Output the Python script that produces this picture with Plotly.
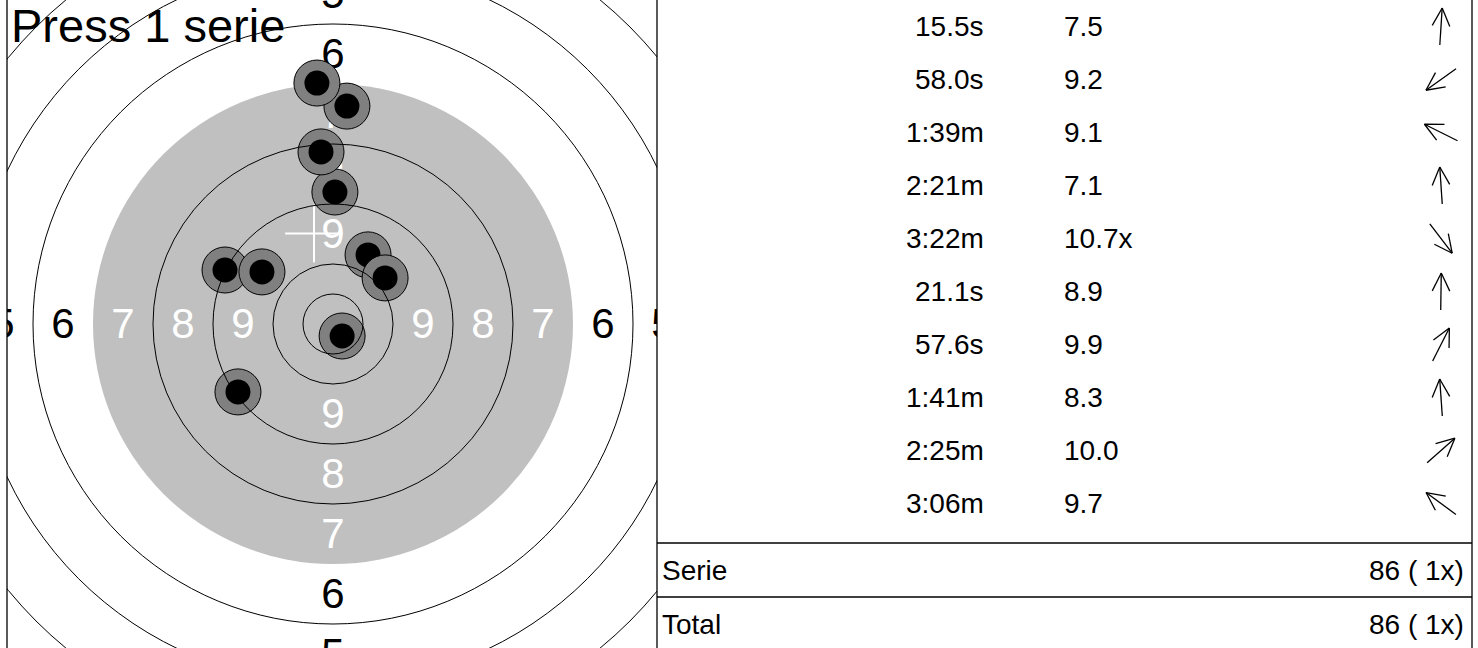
import numpy as np
import plotly.graph_objects as go

# ── Data ──────────────────────────────────────────────────────────────────────
TITLE = "Press 1 serie"

# shot centres in mm from target centre (x right, y up), in firing order
SHOT_X = [5.8, -39.6, -45.0, -6.7, 3.8, 0.8, 14.6, -5.0, 21.7, -29.6]
SHOT_Y = [90.8, -28.3, 22.5, 100.4, -5.0, 55.0, 28.8, 71.7, 19.2, 21.7]
SHOT_TIME = ["15.5s", "58.0s", "1:39m", "2:21m", "3:22m",
             "21.1s", "57.6s", "1:41m", "2:25m", "3:06m"]
SHOT_SCORE = [7.5, 9.2, 9.1, 7.1, 10.7, 8.9, 9.9, 8.3, 10.0, 9.7]
SHOT_INNER_TEN = [False, False, False, False, True, False, False, False, False, False]

RING_VALUES = [10, 9, 8, 7, 6, 5, 4, 3, 2, 1]
RING_LABELS = [9, 8, 7, 6, 5, 4, 3]
SUMMARY_ROWS = ["Serie", "Total"]

# ── Look ──────────────────────────────────────────────────────────────────────
W, H = 1478, 648
FONT = "Arial, Liberation Sans, sans-serif"
GREY = "#C0C0C0"
SHOT_GREY = "#808080"
RING_W = 25.0          # mm per ring
BLACK_RING = 7         # rings 7..10 are the shaded aiming disc
PX_MM = 2.4            # screen pixels per mm
CX, CY = 333, 324      # target centre on screen
LEFT, SPLIT, RIGHT = 7, 657, 1472
ROW_H = 53
LABEL_DY = -3 / PX_MM  # nudge ring numbers down a touch
ARROW_X, ARROW_L, HEAD_L, HEAD_A = 784, 37, 20, np.radians(26)


def ring_radius(v):
    return (11 - v) * RING_W


fig = go.Figure()

# ring numbers (under the shots)
lab_x, lab_y, lab_t, lab_c = [], [], [], []
for v in RING_LABELS:
    r = ring_radius(v) - RING_W / 2
    col = "white" if v >= BLACK_RING else "black"
    for dx, dy in [(-1, 0), (1, 0), (0, 1), (0, -1)]:
        lab_x.append(dx * r)
        lab_y.append(dy * r + LABEL_DY)
        lab_t.append(str(v))
        lab_c.append(col)
fig.add_trace(go.Scatter(
    x=lab_x, y=lab_y, text=lab_t, mode="text", textposition="middle center",
    textfont=dict(family=FONT, size=42, color=lab_c), cliponaxis=True,
    hoverinfo="skip", xaxis="x", yaxis="y"))

# shots: grey ring with black core
for sx, sy in zip(SHOT_X, SHOT_Y):
    fig.add_trace(go.Scatter(
        x=[sx, sx], y=[sy, sy], mode="markers",
        marker=dict(size=[46, 25], color=[SHOT_GREY, "black"], opacity=1,
                    line=dict(color="black", width=[1, 0])),
        hoverinfo="skip", xaxis="x", yaxis="y"))

# mean point of impact
mx, my = np.mean(SHOT_X), np.mean(SHOT_Y)
arm = 12
fig.add_trace(go.Scatter(
    x=[mx - arm, mx + arm, None, mx, mx], y=[my, my, None, my - arm, my + arm],
    mode="lines", line=dict(color="white", width=2),
    hoverinfo="skip", xaxis="x", yaxis="y"))

# direction arrows in the table
ax_, ay_ = [], []
for i, (sx, sy) in enumerate(zip(SHOT_X, SHOT_Y)):
    d = np.array([sx, -sy]) / np.hypot(sx, sy)
    c = np.array([ARROW_X, ROW_H * (i + 0.5)])
    tip, tail = c + d * ARROW_L / 2, c - d * ARROW_L / 2
    ax_ += [tail[0], tip[0], None]
    ay_ += [tail[1], tip[1], None]
    for s in (1, -1):
        a = HEAD_A * s
        rot = np.array([d[0] * np.cos(a) - d[1] * np.sin(a),
                        d[0] * np.sin(a) + d[1] * np.cos(a)])
        end = tip - rot * HEAD_L
        ax_ += [tip[0], end[0], None]
        ay_ += [tip[1], end[1], None]
fig.add_trace(go.Scatter(
    x=ax_, y=ay_, mode="lines", line=dict(color="black", width=1.3),
    hoverinfo="skip", xaxis="x2", yaxis="y2"))

# ── Shapes ────────────────────────────────────────────────────────────────────
shapes = [dict(type="circle", xref="x", yref="y", layer="below",
               x0=-ring_radius(BLACK_RING), x1=ring_radius(BLACK_RING),
               y0=-ring_radius(BLACK_RING), y1=ring_radius(BLACK_RING),
               fillcolor=GREY, line=dict(width=0))]
radii = [RING_W / 2] + [ring_radius(v) for v in RING_VALUES if v != BLACK_RING]
for r in radii:
    shapes.append(dict(type="circle", xref="x", yref="y", layer="above",
                       x0=-r, x1=r, y0=-r, y1=r,
                       line=dict(color="black", width=1)))
for xpx in (LEFT, SPLIT, RIGHT):
    shapes.append(dict(type="line", xref="paper", yref="paper",
                       x0=xpx / W, x1=xpx / W, y0=0, y1=1,
                       line=dict(color="black", width=1.3)))
sum_top = ROW_H * len(SHOT_X) + 13
for k in range(len(SUMMARY_ROWS)):
    yl = sum_top + k * 54
    shapes.append(dict(type="line", xref="x2", yref="y2",
                       x0=0, x1=RIGHT - SPLIT, y0=yl, y1=yl,
                       line=dict(color="black", width=1.3)))

# ── Annotations ───────────────────────────────────────────────────────────────
ann = [dict(text=TITLE, xref="paper", yref="paper", x=9 / W, y=1 - 26 / H,
            xanchor="left", yanchor="middle", showarrow=False,
            font=dict(family=FONT, size=47, color="black"))]
tfont = dict(family=FONT, size=28, color="black")
for i, (t, s, xx) in enumerate(zip(SHOT_TIME, SHOT_SCORE, SHOT_INNER_TEN)):
    yc = ROW_H * (i + 0.5)
    ann.append(dict(text=t, xref="x2", yref="y2", x=329, y=yc, xanchor="right",
                    yanchor="middle", showarrow=False, font=tfont))
    ann.append(dict(text=f"{s:.1f}" + ("x" if xx else ""), xref="x2", yref="y2",
                    x=405, y=yc, xanchor="left", yanchor="middle",
                    showarrow=False, font=tfont))
pts = sum(int(s) for s in SHOT_SCORE)
xs = sum(SHOT_INNER_TEN)
for k, name in enumerate(SUMMARY_ROWS):
    yc = sum_top + k * 54 + 27
    ann.append(dict(text=name, xref="x2", yref="y2", x=3, y=yc, xanchor="left",
                    yanchor="middle", showarrow=False, font=tfont))
    ann.append(dict(text=f"{pts} ({xs:2d}x)", xref="x2", yref="y2", x=809, y=yc,
                    xanchor="right", yanchor="middle", showarrow=False, font=tfont))

fig.update_layout(
    width=W, height=H, autosize=False,
    margin=dict(l=0, r=0, t=0, b=0, pad=0),
    paper_bgcolor="white", plot_bgcolor="rgba(0,0,0,0)",
    showlegend=False, shapes=shapes, annotations=ann,
    xaxis=dict(domain=[LEFT / W, SPLIT / W], range=[(LEFT - CX) / PX_MM, (SPLIT - CX) / PX_MM],
               visible=False, fixedrange=True),
    yaxis=dict(domain=[0, 1], range=[-(H - CY) / PX_MM, CY / PX_MM],
               visible=False, fixedrange=True),
    xaxis2=dict(domain=[SPLIT / W, 1], range=[0, W - SPLIT], anchor="y2",
                visible=False, fixedrange=True),
    yaxis2=dict(domain=[0, 1], range=[H, 0], anchor="x2",
                visible=False, fixedrange=True),
)

# page margin off so the 1478x648 figure fills the window exactly
fig.write_html("out.html", config={"displayModeBar": False},
               post_script="document.body.style.margin='0';")
